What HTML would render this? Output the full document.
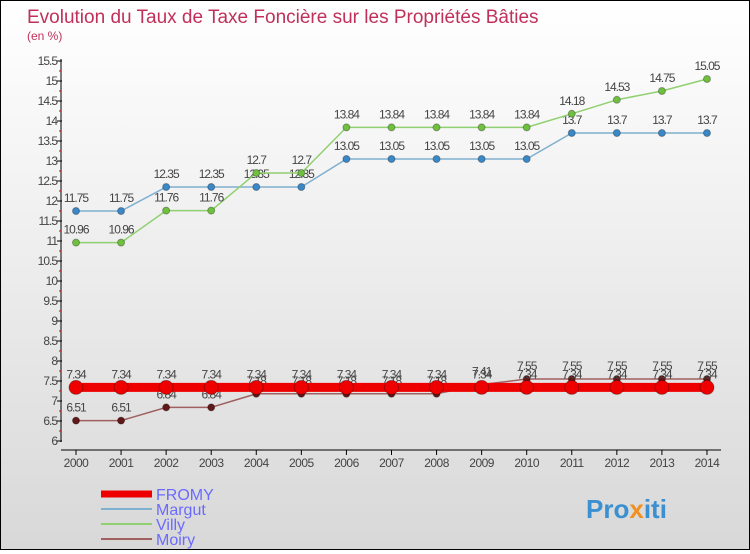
<!DOCTYPE html>
<html><head><meta charset="utf-8"><style>
body{margin:0}
#c{width:748px;height:548px;border:1px solid #000;background:linear-gradient(#fff,#f4f4f4 30%,#d8d8d8);position:relative;font-family:"Liberation Sans",sans-serif}
</style></head><body>
<div id="c">
<svg id="s" width="748" height="548" xmlns="http://www.w3.org/2000/svg" font-family="Liberation Sans, sans-serif">
<text x="26" y="22" font-size="19" fill="#c0305a">Evolution du Taux de Taxe Foncière sur les Propriétés Bâties</text>
<text x="26" y="39" font-size="12" fill="#c0305a">(en %)</text>
<g id="axes"></g><g id="series"></g>
<g>
<line x1="100" y1="493" x2="151" y2="493" stroke="#e00" stroke-width="7"/>
<text x="155" y="499" font-size="16" fill="#6a6aff">FROMY</text>
<line x1="100" y1="508" x2="151" y2="508" stroke="#7fb0d0" stroke-width="2"/>
<text x="155" y="514" font-size="16" fill="#6a6aff">Margut</text>
<line x1="100" y1="523" x2="151" y2="523" stroke="#90d070" stroke-width="2"/>
<text x="155" y="529" font-size="16" fill="#6a6aff">Villy</text>
<line x1="100" y1="538" x2="151" y2="538" stroke="#a06060" stroke-width="2"/>
<text x="155" y="544" font-size="16" fill="#6a6aff">Moiry</text>
</g>
<text x="585" y="517" font-size="26" font-weight="bold" fill="#3a90d0">Pro<tspan fill="#f09020">x</tspan>iti</text>
</svg>
</div>
<script>
const years=[2000,2001,2002,2003,2004,2005,2006,2007,2008,2009,2010,2011,2012,2013,2014];
const fromy=[7.34,7.34,7.34,7.34,7.34,7.34,7.34,7.34,7.34,7.34,7.34,7.34,7.34,7.34,7.34];
const margut=[11.75,11.75,12.35,12.35,12.35,12.35,13.05,13.05,13.05,13.05,13.05,13.7,13.7,13.7,13.7];
const villy=[10.96,10.96,11.76,11.76,12.7,12.7,13.84,13.84,13.84,13.84,13.84,14.18,14.53,14.75,15.05];
const moiry=[6.51,6.51,6.84,6.84,7.18,7.18,7.18,7.18,7.18,7.41,7.55,7.55,7.55,7.55,7.55];
const yTicks=[6,6.5,7,7.5,8,8.5,9,9.5,10,10.5,11,11.5,12,12.5,13,13.5,14,14.5,15,15.5];
const NS="http://www.w3.org/2000/svg";
const X=i=>75+i*45.07, Y=v=>440-(v-6)*40;
function mk(t,a,p){const e=document.createElementNS(NS,t);for(const k in a)e.setAttribute(k,a[k]);p.appendChild(e);return e;}
const ax=document.getElementById('axes'), sg=document.getElementById('series');
let l=mk('line',{x1:60,y1:58,x2:60,y2:441,stroke:'#000'},ax);


l=mk('line',{x1:60,y1:449,x2:720,y2:449,stroke:'#000'},ax);


yTicks.forEach(v=>{const y=Y(v);mk('line',{x1:56,y1:y,x2:61,y2:y,stroke:'#000'},ax);
 if(v<15.5)mk('line',{x1:58,y1:y-10,x2:60,y2:y-10,stroke:'#e00'},ax);
 const t=mk('text',{x:56,y:y+4,'font-size':12,fill:'#444','text-anchor':'end','letter-spacing':'-1'},ax);t.textContent=v;
 
 });
years.forEach((yr,i)=>{const x=X(i);mk('line',{x1:x,y1:449,x2:x,y2:454,stroke:'#000'},ax);
 const t=mk('text',{x:x,y:466,'font-size':12,fill:'#444','text-anchor':'middle','letter-spacing':'-0.5'},ax);t.textContent=yr;
 
 });
function series(d,col,pcol,w,r,name){
 const g=mk('g',{},sg);
 
 
 mk('polyline',{points:d.map((v,i)=>X(i)+','+Y(v)).join(' '),fill:'none',stroke:col,'stroke-width':w},g);
 d.forEach((v,i)=>{const c=mk('circle',{cx:X(i),cy:Y(v),r:r,fill:pcol,stroke:'rgba(0,0,0,0.3)'},g);
  
  
  const t=mk('text',{x:X(i),y:Y(v)-9,'font-size':12,fill:'#444','text-anchor':'middle','letter-spacing':'-1'},g);t.textContent=v;});
}
series(margut,'#7fb0d0','#3a88c8',1.5,3.5,'margut');
series(villy,'#90d070','#70c040',1.5,3.5,'villy');
series(moiry,'#a06060','#601818',1.5,3.5,'moiry');
series(fromy,'#e00','#e00',9,7,'fromy');
</script>
</body></html>
